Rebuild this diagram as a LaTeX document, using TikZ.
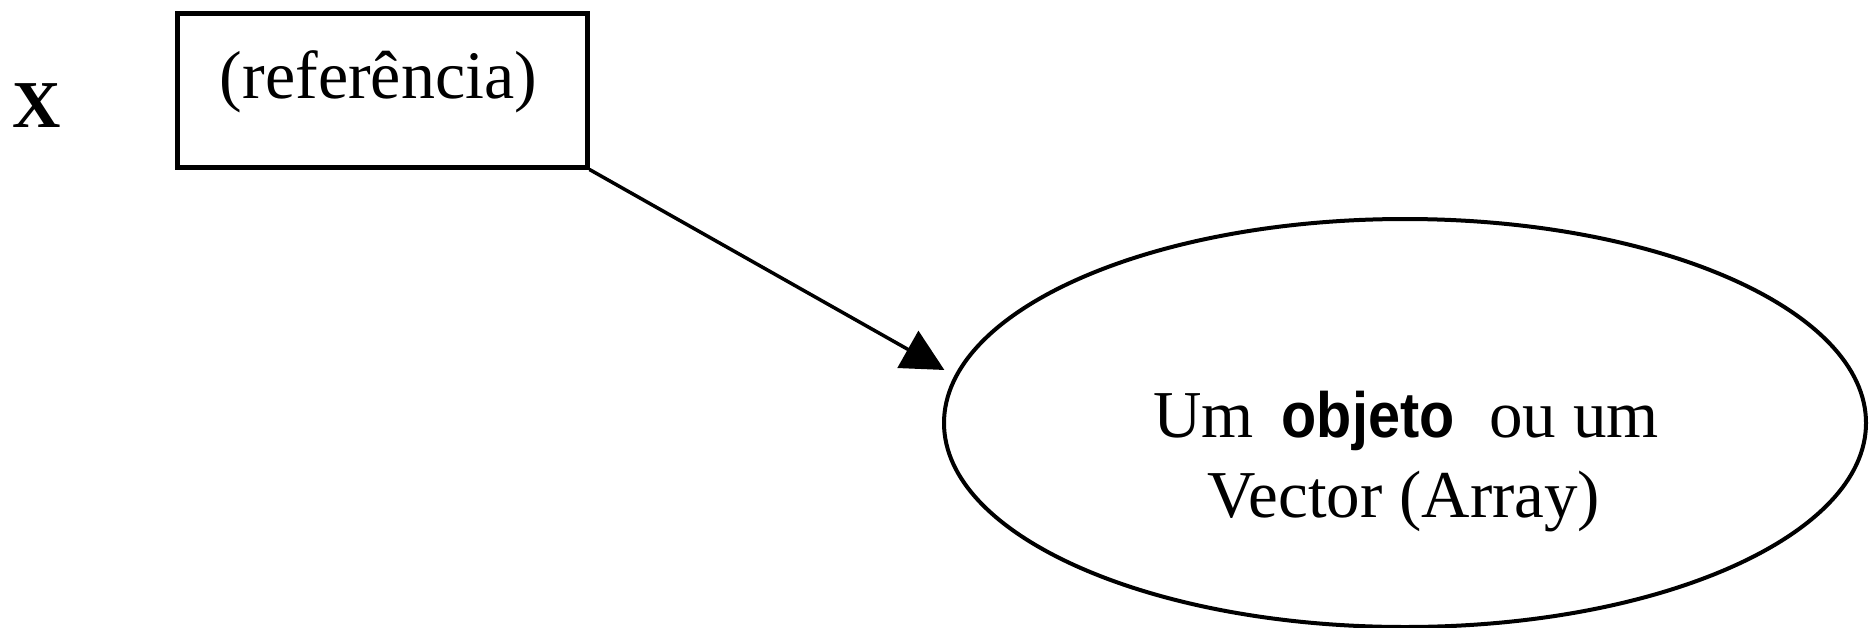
\documentclass[tikz,border=0pt]{standalone}
\usepackage{fontspec}
\usetikzlibrary{arrows.meta,shapes.geometric}
\setmainfont{Liberation Serif}
\newfontfamily\sansbold{Liberation Sans}[BoldFont={Liberation Sans Bold}]
\tikzset{
  refbox/.style={draw, line width=5pt, rectangle, minimum width=410pt, minimum height=154pt, inner sep=0pt},
  target/.style={draw, line width=4pt, ellipse, minimum width=922pt, minimum height=408pt, inner sep=0pt},
  serif/.style={inner sep=0pt, font=\fontsize{67}{80}\selectfont},
  pointer/.style={line width=3.5pt, -{Triangle[length=42pt, width=42pt]}, shorten >=11.5pt}
}
\newcommand\keyword[1]{\scalebox{0.9}[1]{\sansbold\bfseries\fontsize{64}{80}\selectfont #1}}
\begin{document}
\begin{tikzpicture}[x=1pt, y=-1pt]
  \useasboundingbox (0,0) rectangle (1873,627);
  % variable name
  \node[serif, anchor=base west, font=\fontsize{67}{80}\selectfont\bfseries] (var) at (12,127) {X};
  % reference box and its label
  \node[refbox] (box) at (382,90) {};
  \node[serif, font=\fontsize{68}{80}\selectfont, anchor=base] (reflabel) at (378.5,98) {(referência)};
  % referenced object
  \node[target] (ell) at (1405,423) {};
  \node[serif, anchor=base] (line1) at (1406,437)
    {Um\hspace{28pt}\keyword{objeto}\hspace{35pt}ou um};
  \node[serif, anchor=base] (line2) at (1404,517) {Vector (Array)};
  % the reference points to the object
  \draw[pointer] (box.south east) -- (ell.174.4);
\end{tikzpicture}
\end{document}
